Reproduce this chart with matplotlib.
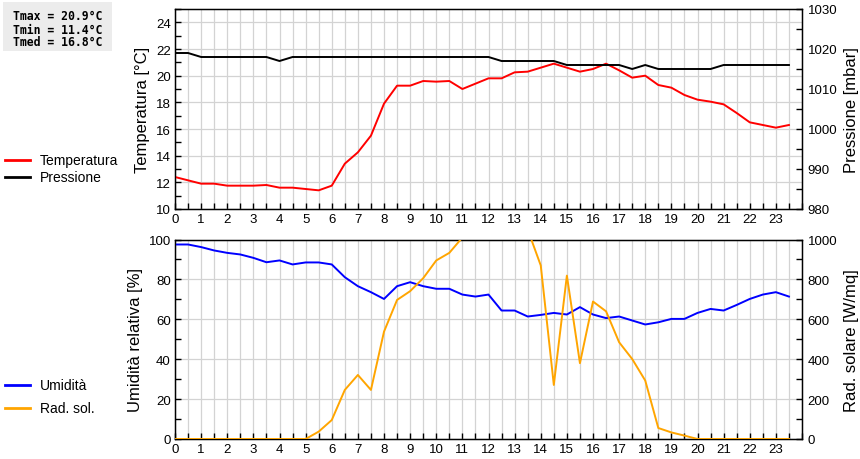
import matplotlib
matplotlib.use('Agg')
import matplotlib.pyplot as plt
from matplotlib.lines import Line2D
from matplotlib.ticker import MultipleLocator
import numpy as np

# half-hourly readings, 0.0 .. 23.5
hours = np.arange(48) * 0.5

temperatura = [12.4, 12.15, 11.9, 11.9, 11.75, 11.75, 11.75, 11.8, 11.6, 11.6,
               11.5, 11.4, 11.75, 13.4, 14.25, 15.5, 17.9, 19.25, 19.25, 19.6,
               19.55, 19.6, 19.0, 19.4, 19.8, 19.8, 20.25, 20.3, 20.6, 20.9,
               20.6, 20.3, 20.5, 20.9, 20.4, 19.85, 20.0, 19.3, 19.1, 18.55,
               18.2, 18.05, 17.85, 17.2, 16.5, 16.3, 16.1, 16.3]

pressione = [1019, 1019, 1018, 1018, 1018, 1018, 1018, 1018, 1017, 1018,
             1018, 1018, 1018, 1018, 1018, 1018, 1018, 1018, 1018, 1018,
             1018, 1018, 1018, 1018, 1018, 1017, 1017, 1017, 1017, 1017,
             1016, 1016, 1016, 1016, 1016, 1015, 1016, 1015, 1015, 1015,
             1015, 1015, 1016, 1016, 1016, 1016, 1016, 1016]

umidita = [97.5, 97.5, 96.2, 94.5, 93.3, 92.5, 90.8, 88.6, 89.5, 87.5,
           88.5, 88.5, 87.5, 81.1, 76.6, 73.6, 70.2, 76.6, 78.6, 76.6,
           75.3, 75.3, 72.4, 71.4, 72.4, 64.4, 64.4, 61.4, 62.2, 63.2,
           62.4, 66.1, 62.4, 60.6, 61.4, 59.4, 57.4, 58.5, 60.2, 60.2,
           63.2, 65.2, 64.4, 67.2, 70.2, 72.4, 73.6, 71.4]

rad_solare = [0, 0, 0, 0, 0, 0, 0, 0, 0, 0,
              0, 37, 95, 246, 321, 246, 538, 697, 741, 806,
              895, 933, 1010, 1040, 1070, 1090, 1080, 1050, 870, 271,
              819, 380, 689, 640, 485, 401, 293, 55, 33, 17,
              0, 0, 0, 0, 0, 0, 0, 0]

tmax, tmin, tmed = 20.9, 11.4, 16.8

plt.rcParams['font.family'] = ['Liberation Sans', 'DejaVu Sans']

W, H = 860, 460
fig = plt.figure(figsize=(8.6, 4.6), dpi=100)
fig.patch.set_facecolor('white')

grid_color = '#d3d3d3'
tick_fs = 9.5
label_fs = 12
legend_fs = 10
lw = 1.4


def style_axes(ax):
    ax.set_xlim(0, 24)
    ax.set_xticks(range(0, 24))
    ax.xaxis.set_minor_locator(MultipleLocator(0.5))
    ax.grid(True, which='major', axis='both', color=grid_color, lw=0.9, zorder=0)
    ax.grid(True, which='minor', axis='x', color=grid_color, lw=0.9, zorder=0)
    ax.tick_params(which='both', direction='in', length=4, width=1,
                   labelsize=tick_fs, pad=3)
    ax.tick_params(which='both', top=False)
    for sp in ax.spines.values():
        sp.set_linewidth(1.0)


# ---- top panel: temperature / pressure
ax1 = fig.add_axes([175 / W, 1 - 210 / H, 627 / W, 200 / H])
style_axes(ax1)
ax1.set_ylim(10, 25)
ax1.set_yticks(range(10, 25, 2))
ax1.yaxis.set_minor_locator(MultipleLocator(1))
ax1.plot(hours, temperatura, color='#ff0000', lw=lw, zorder=3)
ax1.set_ylabel('Temperatura [°C]', fontsize=label_fs, labelpad=4)

ax1r = ax1.twinx()
ax1r.set_ylim(980, 1030)
ax1r.set_yticks(range(980, 1031, 10))
ax1r.yaxis.set_minor_locator(MultipleLocator(5))
ax1r.tick_params(which='both', direction='in', length=4, width=1,
                 labelsize=tick_fs, pad=4)
ax1r.plot(hours, pressione, color='#000000', lw=lw, zorder=3)
ax1r.set_ylabel('Pressione [mbar]', fontsize=label_fs, labelpad=5)

# ---- bottom panel: humidity / solar radiation
ax2 = fig.add_axes([175 / W, 1 - 440 / H, 627 / W, 199.5 / H])
style_axes(ax2)
ax2.set_ylim(0, 100)
ax2.set_yticks(range(0, 101, 20))
ax2.yaxis.set_minor_locator(MultipleLocator(10))
ax2.plot(hours, umidita, color='#0000ff', lw=lw, zorder=3)
ax2.set_ylabel('Umidità relativa [%]', fontsize=label_fs, labelpad=4)

ax2r = ax2.twinx()
ax2r.set_ylim(0, 1000)
ax2r.set_yticks(range(0, 1001, 200))
ax2r.yaxis.set_minor_locator(MultipleLocator(100))
ax2r.tick_params(which='both', direction='in', length=4, width=1,
                 labelsize=tick_fs, pad=4)
ax2r.plot(hours, rad_solare, color='#ffa500', lw=lw, zorder=3)
ax2r.set_ylabel('Rad. solare [W/mq]', fontsize=label_fs, labelpad=5)

# ---- legends on the left
def legend_entry(y_px, color, text):
    y = 1 - y_px / H
    fig.add_artist(Line2D([5 / W, 30 / W], [y, y], color=color, lw=2,
                          transform=fig.transFigure))
    fig.text(40 / W, y, text, fontsize=legend_fs, va='center', ha='left')

legend_entry(161, '#ff0000', 'Temperatura')
legend_entry(178, '#000000', 'Pressione')
legend_entry(386, '#0000ff', 'Umidità')
legend_entry(409, '#ffa500', 'Rad. sol.')

# ---- summary box
box = plt.Rectangle((3 / W, 1 - 52 / H), 109 / W, 49 / H, transform=fig.transFigure,
                    facecolor='#ececec', edgecolor='none')
fig.add_artist(box)
summary = [f'Tmax = {tmax:.1f}°C', f'Tmin = {tmin:.1f}°C', f'Tmed = {tmed:.1f}°C']
for i, line in enumerate(summary):
    fig.text(13 / W, 1 - (17 + 13 * i) / H, line, family='DejaVu Sans Mono',
             weight='bold', fontsize=8.3, va='center', ha='left')

fig.savefig('out.png', dpi=100, facecolor='white')
